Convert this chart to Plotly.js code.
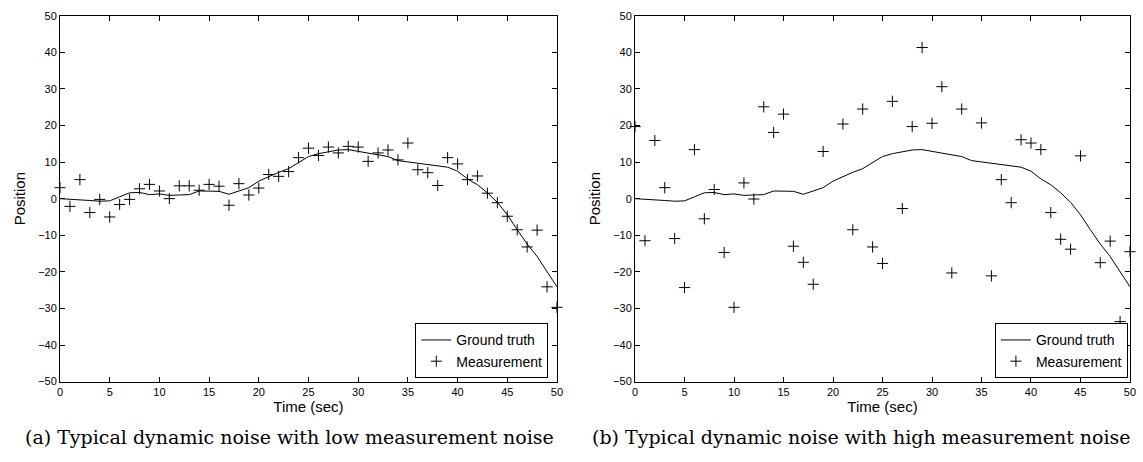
<!DOCTYPE html>
<html>
<head>
<meta charset="utf-8">
<script src="https://cdn.plot.ly/plotly-3.0.1.min.js"></script>
<style>html,body{margin:0;padding:0;background:#fff;}#chart{width:1143px;height:462px;}</style>
</head>
<body>
<div id="chart"></div>
<script>
// Time axis (sec)
const time = [0,1,2,3,4,5,6,7,8,9,10,11,12,13,14,15,16,17,18,19,20,21,22,23,24,25,26,27,28,29,30,31,32,33,34,35,36,37,38,39,40,41,42,43,44,45,46,47,48,49,50];
// Ground truth trajectory (same in both panels)
const groundTruth = [0,-0.1,-0.3,-0.5,-0.7,-0.6,0.5,1.6,1.7,1.1,1.3,0.9,1.0,1.1,2.1,2.1,2.0,1.2,2.0,3.0,4.8,6.1,7.2,8.2,9.8,11.5,12.3,12.8,13.3,13.4,12.9,12.3,12.0,11.5,10.4,10.0,9.7,9.3,9.0,8.6,7.5,5.4,3.8,1.6,-1.0,-4.4,-8.5,-12.4,-15.8,-20.0,-24.1];
// (a) low measurement noise
const measLow = [3.0,-2.1,5.2,-3.8,-0.2,-5.0,-1.6,-0.2,2.7,3.9,2.1,0.0,3.5,3.5,2.3,3.9,3.4,-1.8,4.1,1.0,2.9,6.6,6.1,7.4,11.2,13.8,11.8,14.1,12.5,14.3,14.1,10.2,12.5,13.3,10.6,15.2,7.9,7.1,3.6,11.2,9.5,5.2,6.2,1.5,-1.1,-4.8,-8.5,-13.2,-8.6,-24.1,-29.7];
// (b) high measurement noise (null = not visible in the frame)
const measHigh = [19.7,-11.5,15.9,3.0,-10.9,-24.3,13.4,-5.5,2.5,-14.7,-29.7,4.3,-0.1,25.1,18.1,23.1,-13.0,-17.4,-23.4,12.9,null,20.4,-8.5,24.5,-13.2,-17.7,26.6,-2.7,19.7,41.3,20.6,30.6,-20.3,24.5,null,20.7,-21.1,5.2,-1.1,16.1,15.2,13.4,-3.8,-11.1,-13.8,11.7,null,-17.5,-11.6,-33.6,-14.5];

const xTicks = [0,5,10,15,20,25,30,35,40,45,50];
const yTicks = [-50,-40,-30,-20,-10,0,10,20,30,40,50];
const legendNames = ["Ground truth","Measurement"];
const captions = ["(a) Typical dynamic noise with low measurement noise","(b) Typical dynamic noise with high measurement noise"];

const lineStyle = {color:'black', width:1};
const markerStyle = {symbol:'cross-thin-open', size:8, color:'black', line:{color:'black', width:1}};

const traces = [
  {x:time, y:groundTruth, mode:'lines', line:lineStyle, name:legendNames[0], xaxis:'x', yaxis:'y', legend:'legend'},
  {x:time, y:measLow, mode:'markers', marker:markerStyle, name:legendNames[1], xaxis:'x', yaxis:'y', legend:'legend', cliponaxis:false},
  {x:time, y:groundTruth, mode:'lines', line:lineStyle, name:legendNames[0], xaxis:'x2', yaxis:'y2', legend:'legend2'},
  {x:time, y:measHigh, mode:'markers', marker:markerStyle, name:legendNames[1], xaxis:'x2', yaxis:'y2', legend:'legend2', cliponaxis:false}
];

const tickFont = {family:'Liberation Sans, Arial, sans-serif', size:11, color:'black'};
const titleFont = {family:'Liberation Sans, Arial, sans-serif', size:15, color:'black'};

function xAxis(domain, anchor){
  return {domain:domain, anchor:anchor, range:[0,50], tickvals:xTicks, ticks:'inside', ticklen:5, tickcolor:'black',
    showline:true, linecolor:'black', linewidth:1, mirror:'ticks', showgrid:false, zeroline:false,
    tickfont:tickFont, title:{text:'Time (sec)', font:titleFont, standoff:3}};
}
function yAxis(anchor){
  return {domain:[0.174,0.966], anchor:anchor, range:[-50,50], tickvals:yTicks, ticks:'inside', ticklen:5, tickcolor:'black',
    showline:true, linecolor:'black', linewidth:1, mirror:'ticks', showgrid:false, zeroline:false,
    tickfont:tickFont, title:{text:'Position', font:titleFont, standoff:8}};
}
const legendBase = {bgcolor:'white', bordercolor:'black', borderwidth:1, xanchor:'right', yanchor:'bottom',
  font:{family:'Liberation Sans, Arial, sans-serif', size:14, color:'black'}, tracegroupgap:0, itemwidth:30};

const capFont = {family:'DejaVu Serif, Liberation Serif, serif', size:19, color:'black'};
const layout = {
  width:1143, height:462, margin:{l:0,r:0,t:0,b:0}, paper_bgcolor:'white', plot_bgcolor:'white',
  showlegend:true,
  xaxis:xAxis([0.0525,0.4873],'y'),
  yaxis:yAxis('x'),
  xaxis2:xAxis([0.5556,0.9886],'y2'),
  yaxis2:yAxis('x2'),
  legend:Object.assign({}, legendBase, {x:0.4797, y:0.181}),
  legend2:Object.assign({}, legendBase, {x:0.9868, y:0.181}),
  annotations:[
    {text:captions[0], xref:'paper', yref:'paper', x:0.2533, y:0.055, showarrow:false, xanchor:'center', yanchor:'middle', font:capFont},
    {text:captions[1], xref:'paper', yref:'paper', x:0.7533, y:0.055, showarrow:false, xanchor:'center', yanchor:'middle', font:capFont}
  ]
};
Plotly.newPlot('chart', traces, layout, {displayModeBar:false, staticPlot:true});
</script>
</body>
</html>
